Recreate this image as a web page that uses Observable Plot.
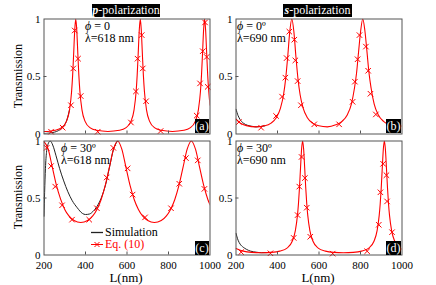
<!DOCTYPE html>
<html><head><meta charset="utf-8">
<script src="https://cdn.jsdelivr.net/npm/d3@7"></script>
<script src="https://cdn.jsdelivr.net/npm/@observablehq/plot@0.6"></script>
<style>
body{margin:0;background:#fff;}
#chart{position:relative;width:436px;height:285px;font-family:"Liberation Serif","Times New Roman",serif;overflow:hidden;background:#fff;}
#chart svg{position:absolute;left:0;top:0;}
.t{position:absolute;white-space:nowrap;font-size:12px;line-height:12px;color:#000;}
.box{position:absolute;background:#000;color:#fff;text-align:center;white-space:nowrap;}
.rot{position:absolute;width:120px;text-align:center;font-size:12px;line-height:12px;transform:rotate(-90deg);}
</style></head><body><div id="chart"></div>
<script>
// x ticks / y ticks
const xTicks = [200, 400, 600, 800, 1000];
const yTicks = [0, 0.5, 1];

// Panel (a): p-polarization, phi=0, lambda=618 nm
const eqA = [[200,0.022],[229,0.024],[253,0.032],[283,0.053],[308,0.11],[323,0.21],[333,0.37],[338,0.51],[343,0.70],[348,0.90],[353,1.0],[358,0.90],[363,0.70],[368,0.51],[373,0.37],[383,0.21],[398,0.11],[423,0.053],[453,0.032],[508,0.022],[564,0.032],[594,0.053],[619,0.11],[634,0.21],[644,0.37],[649,0.51],[654,0.70],[659,0.90],[664,1.0],[669,0.90],[674,0.70],[679,0.51],[684,0.37],[694,0.21],[709,0.11],[734,0.053],[764,0.032],[819,0.022],[874,0.032],[904,0.053],[929,0.11],[944,0.21],[954,0.37],[959,0.51],[964,0.70],[969,0.90],[974,1.0],[979,0.90],[984,0.70],[989,0.51],[994,0.37],[1000,0.25]];
const simHeadA = [[200,0.004],[225,0.008],[250,0.016],[270,0.03],[290,0.06]];
const mkA = [[234,0.02],[290,0.055],[330,0.25],[341,0.57],[348,0.90],[364,0.655],[377,0.33],[459,0.02],[619,0.10],[643,0.37],[651,0.655],[671,0.86],[676,0.57],[692,0.285],[762,0.026],[936,0.16],[952,0.44],[965,0.72],[976,0.97],[984,0.67],[989,0.41]];

// Panel (b): s-polarization, phi=0, lambda=690 nm
const eqB = [[200,0.13],[220,0.097],[250,0.073],[297,0.062],[339,0.071],[369,0.095],[394,0.142],[414,0.222],[429,0.341],[439,0.475],[449,0.667],[459,0.888],[469,1.0],[479,0.888],[489,0.667],[499,0.475],[509,0.341],[524,0.222],[544,0.142],[569,0.095],[599,0.071],[640,0.062],[681,0.08],[711,0.11],[736,0.165],[756,0.26],[771,0.40],[781,0.53],[791,0.72],[801,0.90],[811,1.0],[821,0.90],[831,0.72],[841,0.53],[851,0.40],[866,0.26],[886,0.165],[911,0.11],[941,0.08],[983,0.068],[1000,0.07]];
const simHeadB = [[200,0.215],[210,0.16],[220,0.125],[235,0.095],[255,0.076],[280,0.066]];
const mkB = [[214,0.104],[321,0.055],[393,0.157],[422,0.325],[438,0.49],[444,0.66],[457,0.89],[481,0.82],[486,0.64],[497,0.46],[513,0.25],[577,0.084],[697,0.084],[762,0.28],[773,0.455],[786,0.65],[795,0.86],[826,0.76],[837,0.55],[848,0.35],[874,0.17]];

// Panel (c): p-polarization, phi=30, lambda=618 nm
const eqC = [[200,0.995],[220,0.93],[240,0.77],[260,0.61],[280,0.49],[300,0.40],[320,0.343],[345,0.302],[377,0.285],[410,0.302],[435,0.343],[455,0.40],[475,0.485],[495,0.608],[515,0.768],[535,0.928],[555,1.0],[575,0.928],[595,0.768],[615,0.608],[635,0.485],[655,0.40],[675,0.343],[700,0.302],[732,0.285],[765,0.302],[790,0.343],[810,0.40],[830,0.485],[850,0.608],[870,0.768],[890,0.928],[910,1.0],[930,0.928],[950,0.768],[970,0.608],[990,0.485],[1000,0.44]];
const simHeadC = [[200,0.34],[203,0.55],[207,0.76],[212,0.9],[220,0.975],[230,1.0],[242,0.965],[258,0.87],[275,0.76],[295,0.65],[315,0.555],[335,0.48],[360,0.415],[385,0.365],[400,0.355],[420,0.36],[440,0.39],[460,0.44],[480,0.52],[500,0.64],[518,0.79]];
const mkC = [[213,0.94],[234,0.78],[254,0.60],[287,0.436],[335,0.31],[418,0.31],[455,0.41],[502,0.68],[534,0.94],[603,0.76],[627,0.53],[687,0.33],[812,0.41],[852,0.625],[884,0.85],[941,0.83],[973,0.58]];

// Panel (d): s-polarization, phi=30, lambda=690 nm
const eqD = [[200,0.058],[235,0.034],[275,0.023],[323,0.02],[371,0.023],[411,0.034],[446,0.061],[471,0.120],[486,0.214],[496,0.345],[501,0.450],[506,0.592],[511,0.765],[516,0.928],[521,1.0],[526,0.928],[531,0.765],[536,0.592],[541,0.450],[546,0.345],[556,0.214],[571,0.120],[596,0.061],[631,0.034],[671,0.023],[718,0.02],[765,0.023],[805,0.034],[840,0.061],[865,0.120],[880,0.214],[890,0.345],[895,0.450],[900,0.592],[905,0.765],[910,0.928],[915,1.0],[920,0.928],[925,0.765],[930,0.592],[935,0.450],[940,0.345],[950,0.214],[965,0.120],[990,0.061],[1000,0.05]];
const simHeadD = [[200,0.19],[210,0.13],[220,0.095],[235,0.068],[250,0.05],[270,0.034],[300,0.024]];
const mkD = [[225,0.025],[366,0.015],[478,0.15],[497,0.35],[505,0.60],[516,0.86],[532,0.675],[541,0.415],[558,0.16],[666,0.012],[832,0.033],[888,0.265],[896,0.55],[909,0.80],[925,0.70],[928,0.47],[952,0.20]];

const W = 436, H = 285;
const chart = document.getElementById("chart");

function panel(cfg) {
  const fw = cfg.x1 - cfg.x0, fh = cfg.y1 - cfg.y0;
  const lastHead = cfg.simHead[cfg.simHead.length - 1][0];
  // simulation: where it departs from Eq. (10); elsewhere it lies under the red curve
  const sim = cfg.simHead.concat(cfg.eq.filter(d => d[0] > lastHead).slice(0, 2));
  const marks = [
    Plot.line(sim, {x: d => d[0], y: d => d[1], stroke: "#222", strokeWidth: 1, curve: "monotone-x", clip: true}),
    Plot.line(cfg.eq, {x: d => d[0], y: d => d[1], stroke: "#f00", strokeWidth: 1.1, curve: "monotone-x", clip: true}),
    Plot.dot(cfg.mk, {x: d => d[0], y: d => d[1], symbol: "times", stroke: "#f00", strokeWidth: 1, r: 2.6}),
    Plot.tickX(xTicks.slice(1, -1), {x: d => d, insetTop: fh - 3, stroke: "#555"}),
    Plot.tickY([0.5], {y: d => d, insetRight: fw - 3, stroke: "#555"}),
    Plot.frame({stroke: "#555"}),
    Plot.axisY(yTicks, {anchor: "left", tickSize: 0, tickPadding: 3.5, fontSize: 11, label: null,
      tickFormat: d => String(d)})
  ];
  if (cfg.xLabels) {
    marks.push(Plot.axisX(xTicks, {anchor: "bottom", tickSize: 0, tickPadding: 6, fontSize: 11, label: null,
      tickFormat: d => String(d)}));
  }
  const svg = Plot.plot({
    width: W, height: H,
    marginLeft: cfg.x0, marginRight: W - cfg.x1, marginTop: cfg.y0, marginBottom: H - cfg.y1,
    x: {domain: [200, 1000], axis: null},
    y: {domain: [0, 1], axis: null},
    style: {background: "transparent", fontFamily: "'Liberation Serif', 'Times New Roman', serif", fontSize: "11px", color: "#000", overflow: "visible"},
    marks
  });
  chart.appendChild(svg);
}

panel({eq: eqA, simHead: simHeadA, mk: mkA, x0: 43.5, x1: 209.5, y0: 18.5, y1: 133.5, xLabels: false});
panel({eq: eqB, simHead: simHeadB, mk: mkB, x0: 235.5, x1: 401.5, y0: 18.5, y1: 133.5, xLabels: false});
panel({eq: eqC, simHead: simHeadC, mk: mkC, x0: 43.5, x1: 209.5, y0: 140.5, y1: 254.5, xLabels: true});
panel({eq: eqD, simHead: simHeadD, mk: mkD, x0: 235.5, x1: 401.5, y0: 140.5, y1: 254.5, xLabels: true});

function html(s) { chart.insertAdjacentHTML("beforeend", s); }
// titles
html('<div class="box" style="left:92px;top:4px;width:68px;height:13px;font-size:12px;line-height:13px"><b><i>p</i></b>-polarization</div>');
html('<div class="box" style="left:283px;top:4px;width:69px;height:13px;font-size:12px;line-height:13px"><b><i>s</i></b>-polarization</div>');
// panel letters
html('<div class="box" style="left:195px;top:119px;width:14px;height:14px;font-size:12px;line-height:14px">(a)</div>');
html('<div class="box" style="left:386px;top:119px;width:15px;height:14px;font-size:12px;line-height:14px">(b)</div>');
html('<div class="box" style="left:195px;top:241px;width:14px;height:14px;font-size:12px;line-height:14px">(c)</div>');
html('<div class="box" style="left:386px;top:241px;width:15px;height:14px;font-size:12px;line-height:14px">(d)</div>');
// annotations
html('<div class="t" style="left:85px;top:19.5px"><i>ϕ</i> = 0<br>λ=618 nm</div>');
html('<div class="t" style="left:237px;top:19.5px"><i>ϕ</i> = 0º<br>λ=690 nm</div>');
html('<div class="t" style="left:61px;top:141.5px"><i>ϕ</i> = 30º<br>λ=618 nm</div>');
html('<div class="t" style="left:237px;top:141.5px"><i>ϕ</i> = 30º<br>λ=690 nm</div>');
// axis titles
html('<div class="rot" style="left:-42px;top:70px">Transmission</div>');
html('<div class="rot" style="left:-42px;top:191px">Transmission</div>');
html('<div class="t" style="left:86px;top:271px;width:80px;text-align:center;font-size:13px;line-height:13px">L(nm)</div>');
html('<div class="t" style="left:278px;top:271px;width:80px;text-align:center;font-size:13px;line-height:13px">L(nm)</div>');
// legend (panel c)
html('<svg width="436" height="285" style="position:absolute;left:0;top:0;pointer-events:none">' +
  '<line x1="91" x2="103" y1="232.5" y2="232.5" stroke="#222" stroke-width="1.3"/>' +
  '<text x="105" y="236" font-size="12" font-family="Liberation Serif, serif" fill="#000">Simulation</text>' +
  '<line x1="91" x2="103" y1="244.5" y2="244.5" stroke="#f00" stroke-width="1"/>' +
  '<path d="M94.5,242L99.5,247M94.5,247L99.5,242" stroke="#f00" stroke-width="1"/>' +
  '<text x="105" y="248" font-size="12" font-family="Liberation Serif, serif" fill="#f00">Eq. (10)</text>' +
  '</svg>');
</script></body></html>
